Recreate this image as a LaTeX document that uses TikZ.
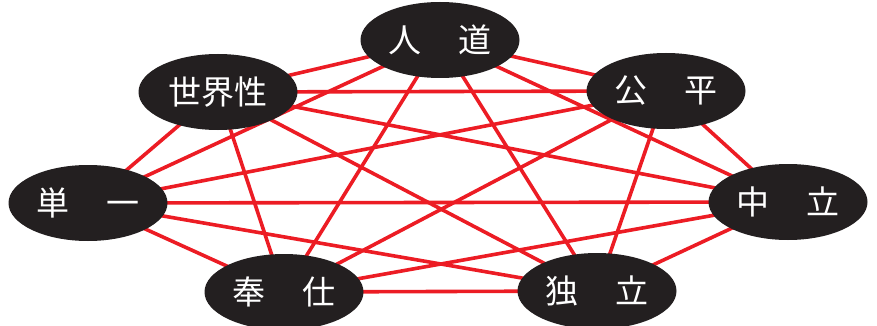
\documentclass[tikz,border=0pt]{standalone}
\usepackage{fontspec}
\newfontfamily\cjk{Noto Sans CJK JP}
\usetikzlibrary{shapes.geometric}
\pgfdeclarelayer{background}
\pgfsetlayers{background,main}
\definecolor{nodeblack}{HTML}{231F20}
\definecolor{linkred}{HTML}{EC1C24}
\begin{document}
\begin{tikzpicture}[x=1pt,y=-1pt,
  valnode/.style={ellipse, fill=nodeblack, text=white, minimum width=159pt,
    minimum height=76pt, inner sep=0pt, font=\cjk\fontsize{33}{33}\selectfont},
  link/.style={draw=linkred, line width=3.6pt}]
\useasboundingbox (0,0) rectangle (877,326);
\node[valnode] (jindo)   at (440,40)  {人\hspace{1.1em}道};
\node[valnode] (koukei)  at (666,91)  {公\hspace{1.1em}平};
\node[valnode] (chuu)    at (788,202) {中\hspace{1.1em}立};
\node[valnode] (doku)    at (597,291) {独\hspace{1.1em}立};
\node[valnode] (houshi)  at (284,292) {奉\hspace{1.1em}仕};
\node[valnode] (tanitsu) at (88,203)  {単\hspace{1.1em}一};
\node[valnode] (sekai)   at (218,92)  {世界性};
\begin{pgfonlayer}{background}
\foreach \a/\b in {jindo/koukei, jindo/chuu, jindo/doku, jindo/houshi, jindo/tanitsu, jindo/sekai,
  koukei/chuu, koukei/doku, koukei/houshi, koukei/tanitsu, koukei/sekai,
  chuu/doku, chuu/houshi, chuu/tanitsu, chuu/sekai,
  doku/houshi, doku/tanitsu, doku/sekai,
  houshi/tanitsu, houshi/sekai,
  tanitsu/sekai}
  \draw[link] (\a.center) -- (\b.center);
\end{pgfonlayer}
\end{tikzpicture}
\end{document}
